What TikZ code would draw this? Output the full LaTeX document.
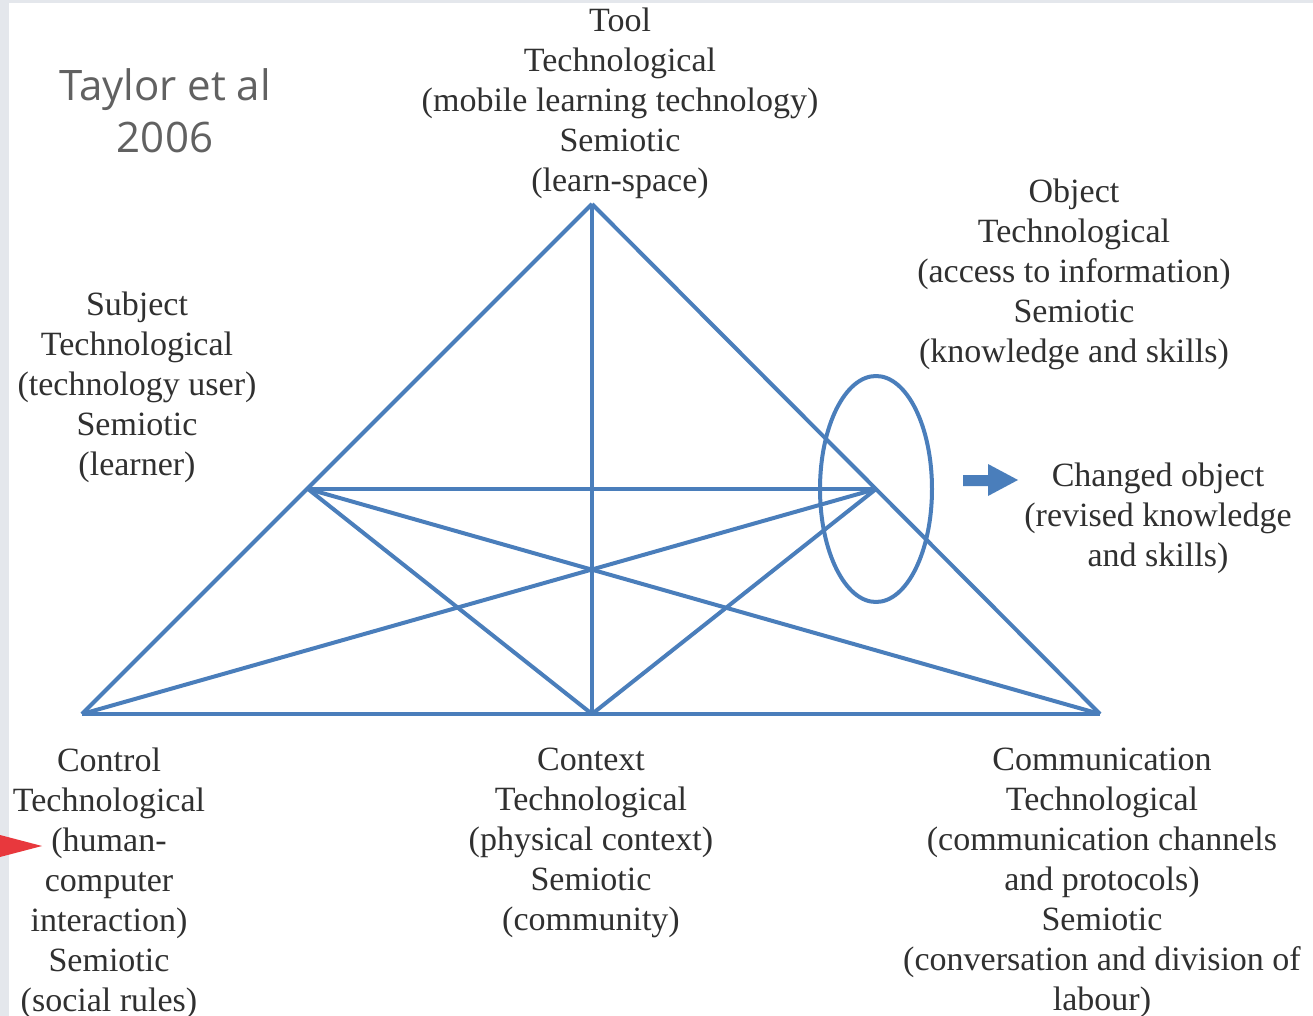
\documentclass[tikz,border=0pt]{standalone}
\usepackage{fontspec}
\setmainfont{Liberation Serif}
\setsansfont{Open Sans}
\usetikzlibrary{positioning}

\definecolor{lineblue}{HTML}{4A7EBB}
\definecolor{textgrey}{HTML}{303030}
\definecolor{stripgrey}{HTML}{E4E7EC}
\definecolor{pointred}{HTML}{E8383D}

\begin{document}
\begin{tikzpicture}
	[x=0.5pt, y=-0.5pt,
	edge/.style = {draw=lineblue, line width=2pt, line join=round},
	lbl/.style = {align=center, text=textgrey, inner sep=0pt, font=\rmfamily\fontsize{17}{20}\selectfont}]
	\useasboundingbox (0,0) rectangle (1313,1016);
	\fill[white] (0,0) rectangle (1313,1016);
	\fill[stripgrey] (0,0) rectangle (9,1016);
	\fill[stripgrey] (0,0) rectangle (1313,3);
	% title
	\node[text=black!62, align=center, inner sep=0pt, font=\sffamily\fontsize{21}{26}\selectfont] (title) at (165,111) {Taylor et al\\2006};
	% corners of the triangle
	\coordinate (tool) at (592,204);
	\coordinate (subj) at (308,489);
	\coordinate (obj) at (876,489);
	\coordinate (ctrl) at (82,714);
	\coordinate (ctx) at (592,714);
	\coordinate (comm) at (1100,714);
	\draw[edge] (tool) -- (ctrl);
	\draw[edge] (tool) -- (comm);
	\draw[edge] (ctrl) -- (comm);
	\draw[edge] (tool) -- (ctx);
	\draw[edge] (subj) -- (obj);
	\draw[edge] (subj) -- (ctx);
	\draw[edge] (obj) -- (ctx);
	\draw[edge] (subj) -- (comm);
	\draw[edge] (obj) -- (ctrl);
	\draw[edge] (obj) ellipse [x radius=56, y radius=113];
	% labels
	\node[lbl] (l-tool) at (620,103) {Tool\\Technological\\(mobile learning technology)\\Semiotic\\(learn-space)};
	\node[lbl] (l-obj) at (1074,274) {Object\\Technological\\(access to information)\\Semiotic\\(knowledge and skills)};
	\node[lbl] (l-subj) at (137,387) {Subject\\Technological\\(technology user)\\Semiotic\\(learner)};
	\node[lbl] (l-chg) at (1158,518) {Changed object\\(revised knowledge\\and skills)};
	\node[lbl] (l-ctrl) at (109,883) {Control\\Technological\\(human-\\computer\\interaction)\\Semiotic\\(social rules)};
	\node[lbl] (l-ctx) at (591,843) {Context\\Technological\\(physical context)\\Semiotic\\(community)};
	\node[lbl] (l-comm) at (1102,883) {Communication\\Technological\\(communication channels\\and protocols)\\Semiotic\\(conversation and division of\\labour)};
	% block arrow and pointer
	\fill[lineblue] (963,475) -- (988,475) -- (988,464) -- (1018,480) -- (988,496) -- (988,486) -- (963,486) -- cycle;
	\fill[pointred] (0,835) -- (42,846) -- (0,857) -- cycle;
\end{tikzpicture}
\end{document}
